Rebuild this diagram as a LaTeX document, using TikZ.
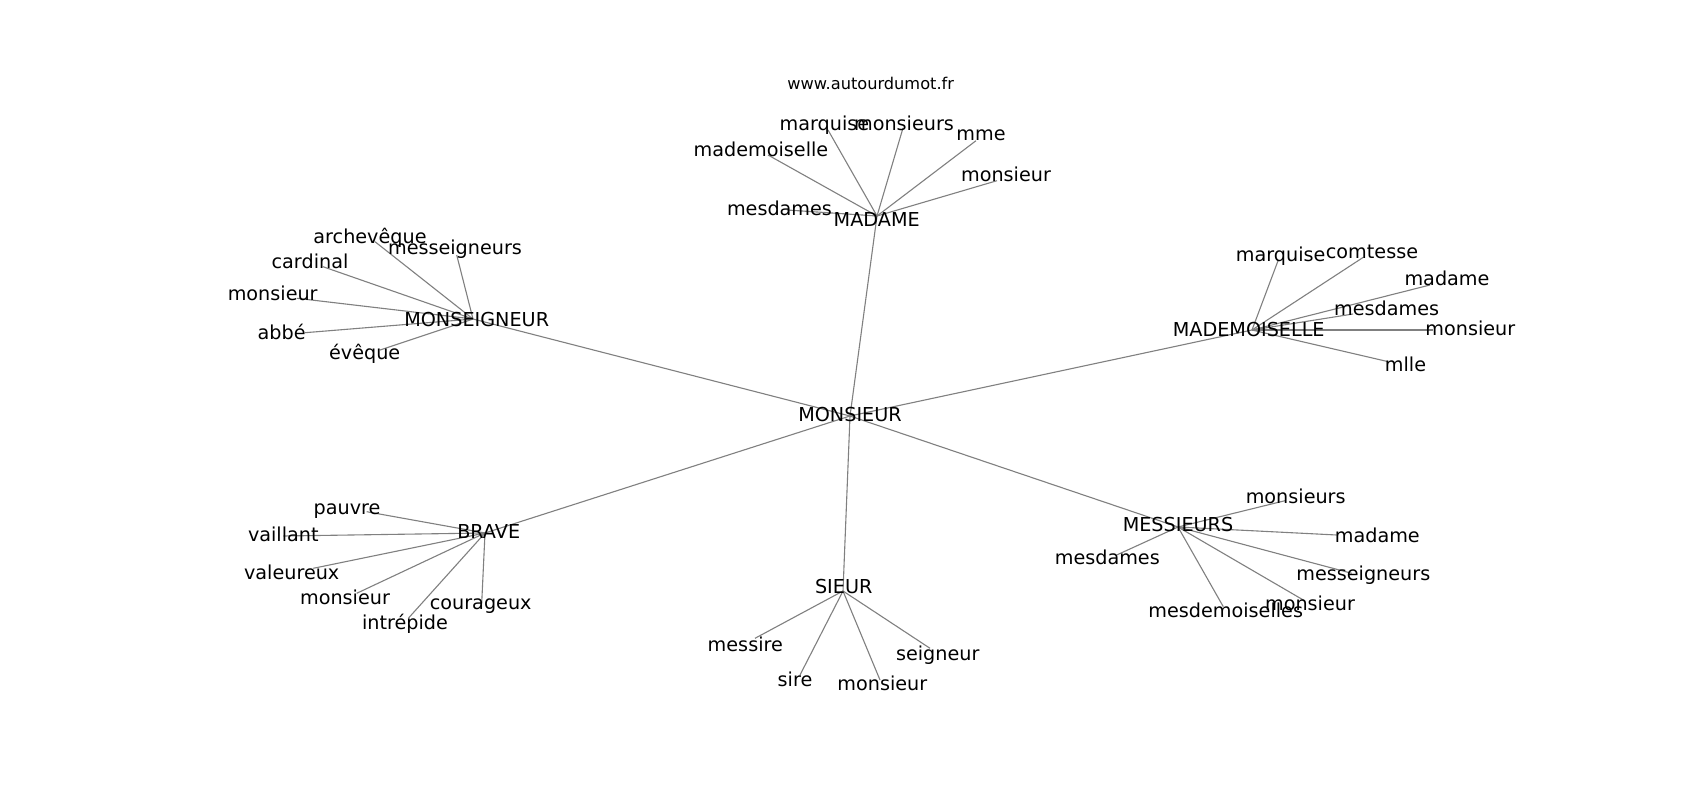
\documentclass[tikz,border=0pt]{standalone}
\usepackage{fontspec}
\setmainfont{DejaVu Sans}
\tikzset{
  edge/.style={draw=black!50, line width=1.1pt},
  lab/.style={anchor=base, inner sep=0pt, font=\fontsize{19.2pt}{23pt}\selectfont, text=black},
  ttl/.style={anchor=base, inner sep=0pt, font=\fontsize{16.2pt}{19pt}\selectfont, text=black}
}
\newcommand\leaf[5]{%
  \coordinate (#1) at #3;
  \draw[edge] (#2) -- (#1);
  \node[lab] (#1t) at #4 {#5};
}
\begin{document}
\begin{tikzpicture}[x=1pt,y=-1pt]
\useasboundingbox[fill=white] (0,0) rectangle (1700,800);
% hubs
\coordinate (mon) at (850,416);
\coordinate (mad) at (877,216);
\coordinate (mgr) at (473,319);
\coordinate (mlle) at (1252,330);
\coordinate (brave) at (485,533);
\coordinate (sieur) at (843,591);
\coordinate (mess) at (1178,527);
\draw[edge] (mon) -- (mad);
\draw[edge] (mon) -- (mgr);
\draw[edge] (mon) -- (mlle);
\draw[edge] (mon) -- (brave);
\draw[edge] (mon) -- (sieur);
\draw[edge] (mon) -- (mess);
% MADAME
\leaf{a1}{mad}{(768,155)}{(761,156.7)}{mademoiselle}
\leaf{a2}{mad}{(828,130)}{(824.4,130)}{marquise}
\leaf{a3}{mad}{(903,128)}{(904,130)}{monsieurs}
\leaf{a4}{mad}{(976,140.7)}{(981,140.7)}{mme}
\leaf{a5}{mad}{(997,180.7)}{(1006,181)}{monsieur}
\leaf{a6}{mad}{(787,210)}{(779.5,215.7)}{mesdames}
% MONSEIGNEUR
\leaf{b1}{mgr}{(375,241.7)}{(370,243.3)}{archevêque}
\leaf{b2}{mgr}{(456.7,255)}{(455,254.3)}{messeigneurs}
\leaf{b3}{mgr}{(323,266.7)}{(310,268.3)}{cardinal}
\leaf{b4}{mgr}{(297,298.3)}{(272.7,300)}{monsieur}
\leaf{b5}{mgr}{(305,332.7)}{(281.7,339.3)}{abbé}
\leaf{b6}{mgr}{(380,350)}{(364.7,359.3)}{évêque}
% MADEMOISELLE
\leaf{c1}{mlle}{(1278.3,260)}{(1280.7,261.7)}{marquise}
\leaf{c2}{mlle}{(1363.3,257.3)}{(1372,258.3)}{comtesse}
\leaf{c3}{mlle}{(1430,285)}{(1447,285)}{madame}
\leaf{c4}{mlle}{(1353,314)}{(1386.7,315)}{mesdames}
\leaf{c5}{mlle}{(1433.3,330)}{(1470.3,335)}{monsieur}
\leaf{c6}{mlle}{(1388.3,361.7)}{(1405.5,371.7)}{mlle}
% BRAVE
\leaf{d1}{brave}{(366.7,511.7)}{(347,514)}{pauvre}
\leaf{d2}{brave}{(283.3,536)}{(283.3,541.7)}{vaillant}
\leaf{d3}{brave}{(313.3,568.3)}{(291.7,579.3)}{valeureux}
\leaf{d4}{brave}{(356.7,593.3)}{(345,604)}{monsieur}
\leaf{d5}{brave}{(408.3,618.3)}{(405,629)}{intrépide}
\leaf{d6}{brave}{(481.7,603.3)}{(480.7,609.3)}{courageux}
% MESSIEURS
\leaf{e1}{mess}{(1285,500.7)}{(1295.7,503.3)}{monsieurs}
\leaf{e2}{mess}{(1336.7,535)}{(1377.3,542.7)}{madame}
\leaf{e3}{mess}{(1116.7,555)}{(1107.3,564)}{mesdames}
\leaf{e4}{mess}{(1351.7,573.3)}{(1363.3,580)}{messeigneurs}
\leaf{e5}{mess}{(1303.3,600)}{(1310,610)}{monsieur}
\leaf{e6}{mess}{(1223.3,606.7)}{(1225.7,617.3)}{mesdemoiselles}
% SIEUR
\leaf{f1}{sieur}{(755,638.3)}{(745.3,651.7)}{messire}
\leaf{f2}{sieur}{(800,675)}{(795,686.7)}{sire}
\leaf{f3}{sieur}{(880,680)}{(882.3,690)}{monsieur}
\leaf{f4}{sieur}{(930,648.3)}{(937.7,660)}{seigneur}
% hub labels
\node[lab] (monT) at (850,421.3) {MONSIEUR};
\node[lab] (madT) at (876.7,226.7) {MADAME};
\node[lab] (mgrT) at (476.7,326) {MONSEIGNEUR};
\node[lab] (mlleT) at (1248.7,336) {MADEMOISELLE};
\node[lab] (braveT) at (488.7,538.3) {BRAVE};
\node[lab] (sieurT) at (843.7,593.3) {SIEUR};
\node[lab] (messT) at (1178,531.7) {MESSIEURS};
% title
\node[ttl] (title) at (870.7,89.3) {www.autourdumot.fr};
\end{tikzpicture}
\end{document}
